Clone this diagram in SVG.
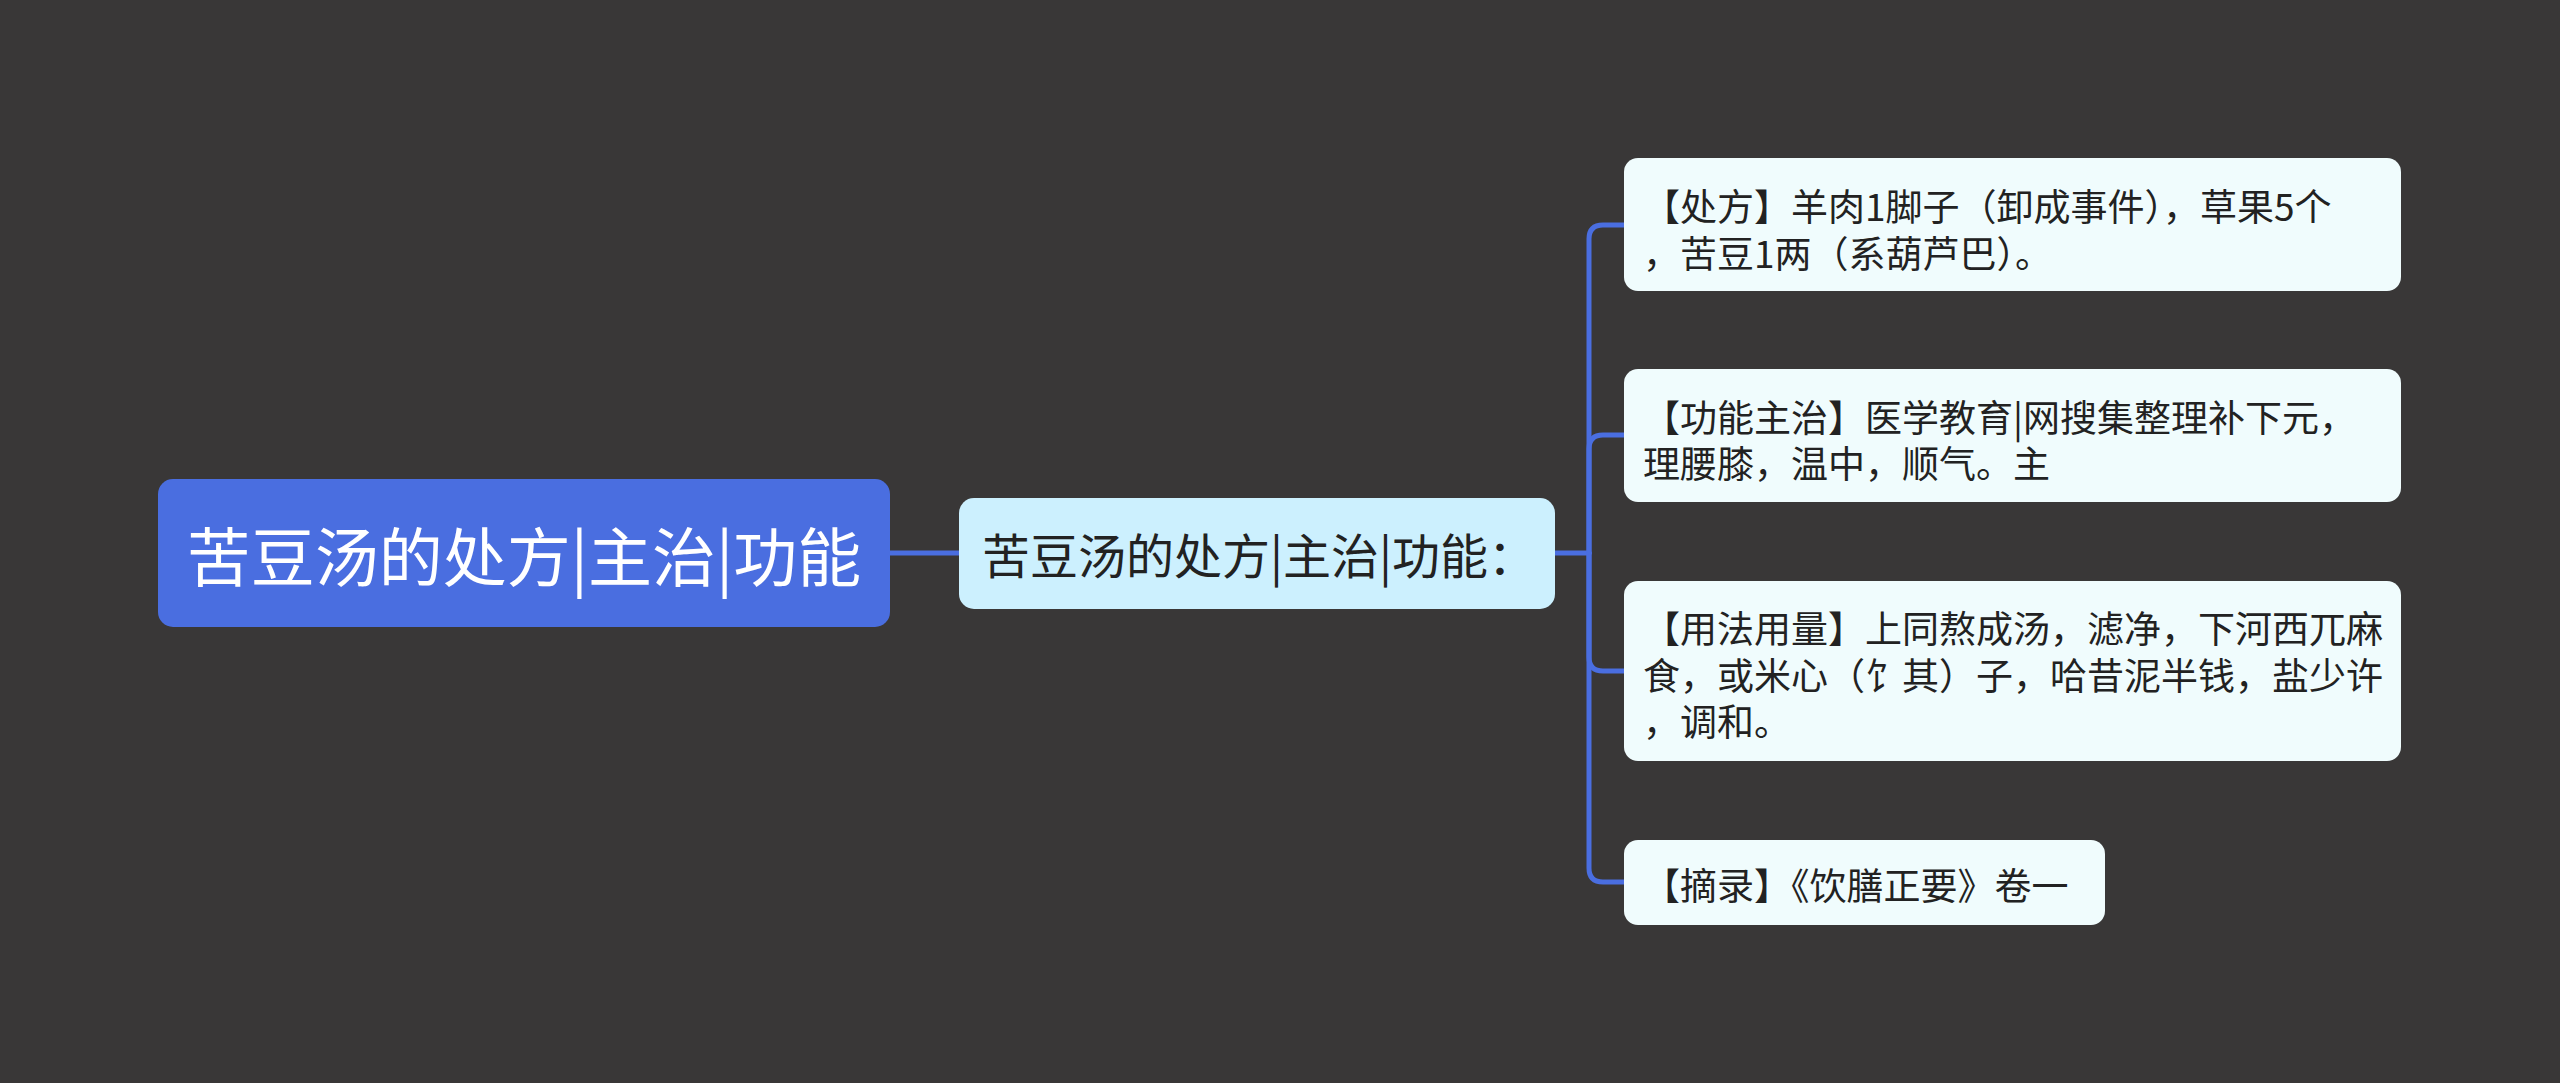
<svg xmlns="http://www.w3.org/2000/svg" width="2560" height="1083" viewBox="0 0 2560 1083">
<style>
.bg{fill:#393737}
.root{fill:#4a6ee0}
.mid{fill:#ccf0fe}
.leaf{fill:#f0fcfd}
.conn{fill:none;stroke:#4a6ee0;stroke-width:5;stroke-linecap:round;stroke-linejoin:round}
text{font-family:"Noto Sans CJK SC","Noto Sans",sans-serif;dominant-baseline:central}
.t-root{fill:#ffffff;font-size:64px}
.t-mid{fill:#222222;font-size:48px}
.t-leaf{fill:#222222;font-size:37px}
</style>
<rect class="bg" x="0" y="0" width="2560" height="1083"/>
<g id="connectors">
<path class="conn" d="M890,553 H959"/>
<path class="conn" d="M1555,553 H1589"/>
<path class="conn" d="M1589,553 V239 Q1589,225 1603,225 H1624"/>
<path class="conn" d="M1589,553 V449 Q1589,435 1603,435 H1624"/>
<path class="conn" d="M1589,553 V657 Q1589,671 1603,671 H1624"/>
<path class="conn" d="M1589,553 V868 Q1589,882 1603,882 H1624"/>
</g>
<g id="root">
<rect class="root" x="158" y="479" width="732" height="148" rx="15"/>
<text class="t-root" x="524" y="553" text-anchor="middle">苦豆汤的处方|主治|功能</text>
</g>
<g id="mid">
<rect class="mid" x="959" y="498" width="596" height="111" rx="15"/>
<text class="t-mid" x="982" y="553">苦豆汤的处方|主治|功能：</text>
</g>
<g id="leaf1">
<rect class="leaf" x="1624" y="158" width="777" height="133" rx="14"/>
<text class="t-leaf" x="1643"><tspan x="1643" y="205">【处方】羊肉1脚子（卸成事件），草果5个</tspan><tspan x="1643" y="252">，苦豆1两（系葫芦巴）。</tspan></text>
</g>
<g id="leaf2">
<rect class="leaf" x="1624" y="369" width="777" height="133" rx="14"/>
<text class="t-leaf" x="1643"><tspan x="1643" y="416">【功能主治】医学教育|网搜集整理补下元，</tspan><tspan x="1643" y="462">理腰膝，温中，顺气。主</tspan></text>
</g>
<g id="leaf3">
<rect class="leaf" x="1624" y="581" width="777" height="180" rx="14"/>
<text class="t-leaf" x="1643"><tspan x="1643" y="627">【用法用量】上同熬成汤，滤净，下河西兀麻</tspan><tspan x="1643" y="674">食，或米心（饣其）子，哈昔泥半钱，盐少许</tspan><tspan x="1643" y="720">，调和。</tspan></text>
</g>
<g id="leaf4">
<rect class="leaf" x="1624" y="840" width="481" height="85" rx="14"/>
<text class="t-leaf" x="1643" y="884">【摘录】《饮膳正要》卷一</text>
</g>
</svg>
